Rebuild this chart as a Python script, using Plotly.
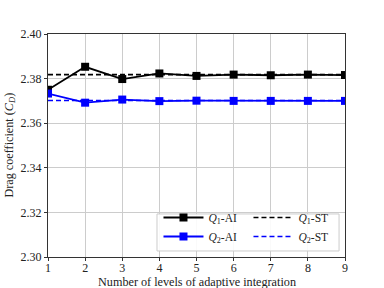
import plotly.graph_objects as go

levels = [1, 2, 3, 4, 5, 6, 7, 8, 9]
q1_ai = [2.3750, 2.3853, 2.3798, 2.3823, 2.3812, 2.3818, 2.3815, 2.3818, 2.3816]
q2_ai = [2.3733, 2.3692, 2.3706, 2.3699, 2.3701, 2.3700, 2.3700, 2.3700, 2.3700]
q1_st = 2.3818
q2_st = 2.3702
yticks = [2.30, 2.32, 2.34, 2.36, 2.38, 2.40]

font = "Liberation Serif"
fig = go.Figure()
fig.add_trace(go.Scatter(x=levels, y=q1_ai, mode="lines+markers", name="<i>Q</i><sub>1</sub>-AI", legend="legend",
                         line=dict(color="black", width=1.8), marker=dict(symbol="square", size=8, color="black")))
fig.add_trace(go.Scatter(x=levels, y=q2_ai, mode="lines+markers", name="<i>Q</i><sub>2</sub>-AI", legend="legend",
                         line=dict(color="blue", width=1.8), marker=dict(symbol="square", size=8, color="blue")))
fig.add_trace(go.Scatter(x=[levels[0], levels[-1]], y=[q1_st, q1_st], mode="lines", name="<i>Q</i><sub>1</sub>-ST",
                         legend="legend2", line=dict(color="black", width=1.6, dash="5px,3px")))
fig.add_trace(go.Scatter(x=[levels[0], levels[-1]], y=[q2_st, q2_st], mode="lines", name="<i>Q</i><sub>2</sub>-ST",
                         legend="legend2", line=dict(color="blue", width=1.6, dash="5px,3px")))

axis_common = dict(showline=True, linecolor="#333", linewidth=1, mirror=True, showgrid=True,
                   gridcolor="#cccccc", gridwidth=1, ticks="outside", ticklen=3, tickcolor="#333",
                   tickfont=dict(family=font, size=12, color="#222"), zeroline=False, automargin=False)
fig.update_xaxes(range=[1, 9], tickvals=levels, **axis_common)
fig.update_yaxes(range=[2.30, 2.40], tickvals=yticks, tickformat=".2f", **axis_common)
try:
    fig.update_xaxes(ticklabelstandoff=-3)
except Exception:
    pass
fig.add_annotation(text="Number of levels of adaptive integration", xref="paper", yref="paper",
                   x=0.5, y=-0.112, xanchor="center", yanchor="middle", showarrow=False,
                   font=dict(family=font, size=12.2, color="#222"))
fig.add_annotation(text="Drag coefficient (<i>C</i><sub><i>D</i></sub>)", xref="paper", yref="paper",
                   x=-0.131, y=0.5, xanchor="center", yanchor="middle", textangle=-90, showarrow=False,
                   font=dict(family=font, size=12.2, color="#222"))
# legend frame
fig.add_shape(type="rect", xref="paper", yref="paper", x0=0.367, x1=0.98, y0=0.027, y1=0.193,
              line=dict(color="#cccccc", width=1), fillcolor="rgba(255,255,255,0.9)", layer="above")
leg_common = dict(orientation="v", yanchor="bottom", xanchor="left", bgcolor="rgba(0,0,0,0)",
                  borderwidth=0, font=dict(family=font, size=11.5, color="#222"),
                  tracegroupgap=0, itemwidth=40)
fig.update_layout(
    width=384, height=288, margin=dict(l=48, r=39, t=34, b=31),
    plot_bgcolor="white", paper_bgcolor="white",
    font=dict(family=font, size=12, color="#222"),
    legend=dict(x=0.372, y=0.027, **leg_common),
    legend2=dict(x=0.675, y=0.027, **leg_common),
    showlegend=True,
)
fig.write_html("out.html", config={"displayModeBar": False},
               post_script="document.body.style.margin='0';document.body.style.overflow='hidden';")
